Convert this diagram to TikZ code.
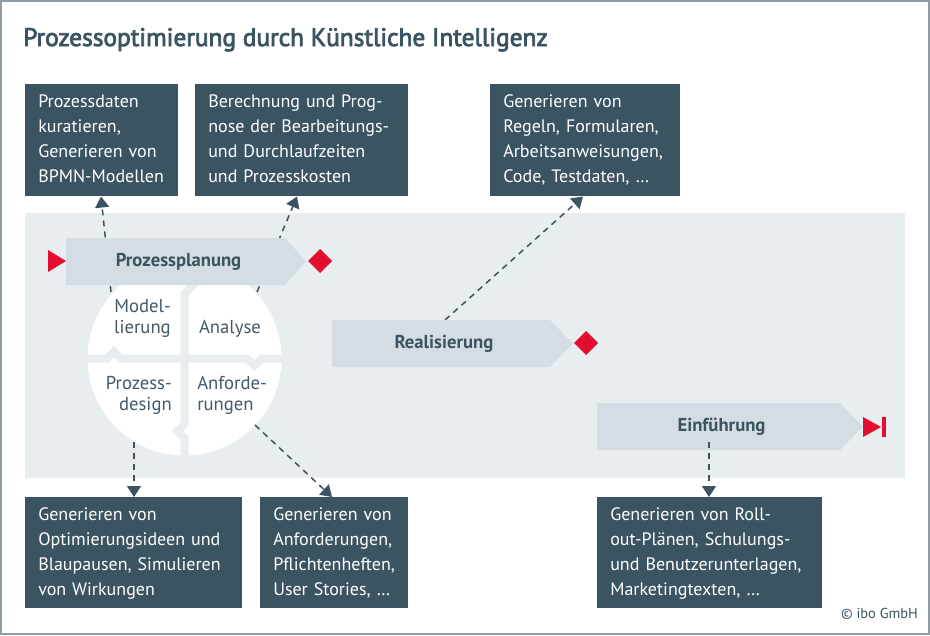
\documentclass[tikz,border=0pt]{standalone}
\usepackage{fontspec}
\setmainfont{PT Sans}
\newfontfamily\titlefont[FakeBold=3]{PT Sans}
\usetikzlibrary{arrows.meta,calc}
\newlength\pxu \setlength\pxu{0.75pt}
\definecolor{boxc}{HTML}{3B5461}
\definecolor{bandc}{HTML}{E8EDF0}
\definecolor{arrowc}{HTML}{D4DDE3}
\definecolor{redc}{HTML}{E30D30}
\definecolor{slate}{HTML}{44596A}
\definecolor{framec}{HTML}{8E9CA6}
\begin{document}
\begin{tikzpicture}[x=0.75pt,y=-0.75pt,
 infobox/.style={fill=boxc,text=white,anchor=north west,inner xsep=9.75pt,inner ysep=0pt,align=left,
   font=\fontsize{13.5}{18.75}\selectfont},
 phase/.style={fill=arrowc},
 lbl/.style={font=\bfseries\fontsize{14}{16}\selectfont,text=boxc},
 seg/.style={text=slate,font=\fontsize{14}{15.75}\selectfont,inner sep=0pt},
 conn/.style={draw=boxc,line width=1.125pt,dash pattern=on 4.5pt off 3.75pt,-{Triangle[length=8.25pt,width=10.5pt]}},
 gap/.style={draw=bandc,line width=6pt,miter limit=10},
 redmark/.style={fill=redc},
]
\useasboundingbox (0,0) rectangle (930,635);
\fill[white] (0,0) rectangle (930,635);
\draw[framec,line width=1.5pt] (1,1) rectangle (929,634);
% title
\node[anchor=base west,inner sep=0pt,text=boxc,font=\titlefont\fontsize{19}{22}\selectfont] (title) at (23,46) {Prozessoptimierung durch Künstliche Intelligenz};
% band
\fill[bandc] (25,213) rectangle (905,478);
% circle
\fill[white] (184.5,358.5) circle[radius=97];
\draw[gap] (80,358.5) -- (107,358.5) -- (114,351.5) -- (121,358.5) -- (247,358.5) -- (254.5,365.5) -- (262,358.5) -- (290,358.5);
\draw[gap] (193,255) -- (193,285) -- (184.5,294) -- (184.5,424) -- (177.5,431) -- (184.5,438) -- (184.5,462);
\node[seg,anchor=east,align=right] (modl) at (171,318) {Model-\\lierung};
\node[seg,anchor=center] (anal) at (230,329) {Analyse};
\node[seg,anchor=east,align=right] (pdes) at (172,395) {Prozess-\\design};
\node[seg,anchor=west,align=left] (anfo) at (197,395) {Anforde-\\rungen};
% boxes
\node[infobox,minimum width=114.75pt,minimum height=84pt,text width=95.25pt] (b1) at (25,84)
 {\begin{tabular}{@{}l@{}}Prozessdaten\\kuratieren,\\Generieren von\\BPMN-Modellen\end{tabular}};
\node[infobox,minimum width=159.75pt,minimum height=84pt,text width=140.25pt] (b2) at (195,84)
 {\begin{tabular}{@{}l@{}}Berechnung und Prog-\\nose der Bearbeitungs-\\und Durchlaufzeiten\\und Prozesskosten\end{tabular}};
\node[infobox,minimum width=142.5pt,minimum height=84pt,text width=123pt] (b3) at (490,84)
 {\begin{tabular}{@{}l@{}}Generieren von\\Regeln, Formularen,\\Arbeitsanweisungen,\\Code, Testdaten, …\end{tabular}};
\node[infobox,minimum width=162.75pt,minimum height=83.25pt,text width=143.25pt] (b4) at (25,497)
 {\begin{tabular}{@{}l@{}}Generieren von\\Optimierungsideen und\\Blaupausen, Simulieren\\von Wirkungen\end{tabular}};
\node[infobox,minimum width=111pt,minimum height=83.25pt,text width=91.5pt] (b5) at (260,497)
 {\begin{tabular}{@{}l@{}}Generieren von\\Anforderungen,\\Pflichtenheften,\\User Stories, …\end{tabular}};
\node[infobox,minimum width=168.75pt,minimum height=83.25pt,text width=149.25pt] (b6) at (597,497)
 {\begin{tabular}{@{}l@{}}Generieren von Roll-\\out-Plänen, Schulungs-\\und Benutzerunterlagen,\\Marketingtexten, …\end{tabular}};
% connector start points
\coordinate (m1) at (111,292);
\coordinate (m2) at (257,292);
\coordinate (r1) at (445,320);
\coordinate (d1) at (134,442);
\coordinate (a1) at (255,425);
\coordinate (e1) at (709,442);
\draw[conn] (m1) -- ($(b1.south west)+(76,0)$);
\draw[conn] (m2) -- ($(b2.south west)+(102,0)$);
\draw[conn] (r1) -- ($(b3.south west)+(93,0)$);
\draw[conn] (d1) -- ($(b4.north west)+(109,0)$);
\draw[conn] (a1) -- ($(b5.north west)+(72,0)$);
% phase arrows
\fill[phase] (66,238) -- (285,238) -- (306,261.5) -- (285,285) -- (66,285) -- cycle;
\fill[phase] (332,320) -- (550,320) -- (573,343.5) -- (550,367) -- (332,367) -- cycle;
\fill[phase] (597,403) -- (840,403) -- (863,426.5) -- (840,450) -- (597,450) -- cycle;
\node[lbl] (pp) at (178.5,262) {Prozessplanung};
\node[lbl] (re) at (444,344) {Realisierung};
\node[lbl] (ef) at (721.5,427) {Einführung};
\draw[conn] (e1) -- ($(b6.north west)+(112,0)$);
% red markers
\fill[redmark] (48,250) -- (66,261) -- (48,272) -- cycle;
\fill[redmark] (320,249) -- (332,261) -- (320,273) -- (308,261) -- cycle;
\fill[redmark] (586,331) -- (598,343) -- (586,355) -- (574,343) -- cycle;
\fill[redmark] (863,417) -- (881,427) -- (863,437) -- cycle;
\fill[redmark] (882,417) rectangle (886,437);
% copyright
\node[anchor=base east,inner sep=0pt,text=boxc,font=\fontsize{10.8}{12}\selectfont] (copy) at (918,618) {© ibo GmbH};
\end{tikzpicture}
\end{document}
